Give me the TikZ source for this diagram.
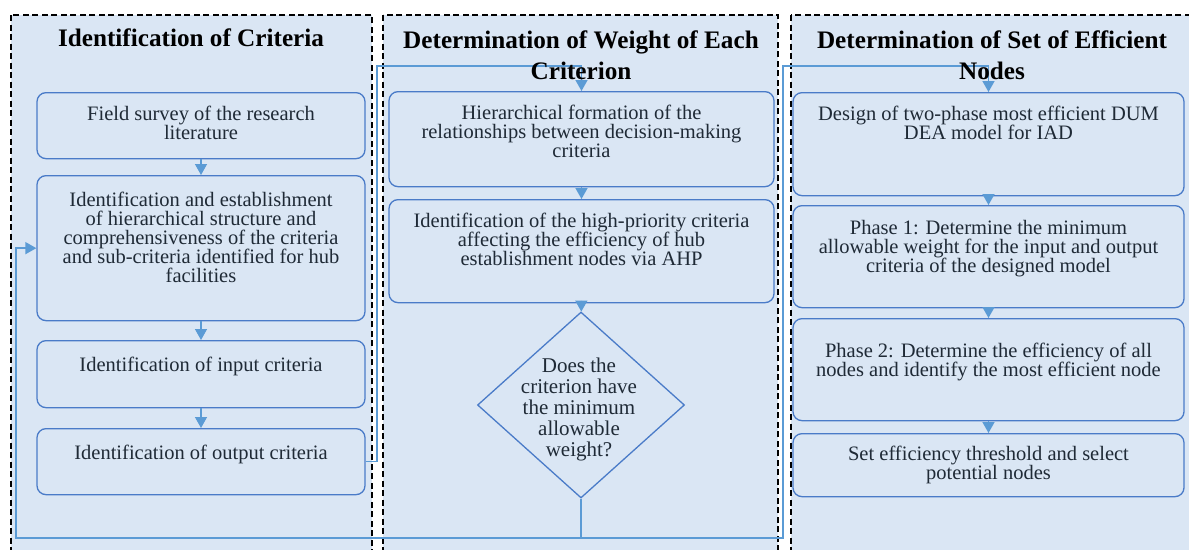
\documentclass[tikz,border=0pt]{standalone}
\usepackage{fontspec}
\setmainfont{Liberation Serif}
\usetikzlibrary{arrows.meta, positioning, shapes.geometric}
\definecolor{panelfill}{HTML}{DAE6F4}
\definecolor{boxline}{HTML}{4A7BC8}
\definecolor{flowline}{HTML}{5B9BD5}
\definecolor{bodytext}{HTML}{1F2A36}

\begin{document}
\begin{tikzpicture}[x=1pt, y=-1pt,
  panel/.style={fill=panelfill, draw=black, line width=1.8pt, dash pattern=on 6pt off 3.5pt},
  stepbox/.style={draw=boxline, fill=panelfill, line width=1.3pt, rounded corners=9pt, anchor=north, inner sep=0pt},
  steptext/.style={text=bodytext, align=center, inner sep=0pt, font=\fontsize{20.5}{19}\selectfont},
  paneltitle/.style={align=center, font=\fontsize{25.2}{31}\selectfont\bfseries},
  decision/.style={diamond, draw=boxline, fill=panelfill, line width=1.3pt, inner sep=0pt},
  flow/.style={draw=flowline, line width=1.4pt},
  arr/.style={flow, -{Triangle[width=12pt, length=11pt]}}
]
        \useasboundingbox (0,0) rectangle (1189,549);
        \clip (0,0) rectangle (1189,549);

        % Panels
        \draw[panel] (11,15) rectangle (372,570);
        \draw[panel] (383,15) rectangle (778,570);
        \draw[panel] (791,15) rectangle (1210,570);

        % Nodes: identification of criteria
        \node[stepbox, minimum width=328pt, minimum height=66pt] (fieldsurvey) at (201,92) {};
        \node[steptext, below=13.5pt of fieldsurvey.north] (fieldsurveytext) {Field survey of the research\\literature};
        \node[stepbox, minimum width=328pt, minimum height=145pt] (identify) at (201,175) {};
        \node[steptext, below=17pt of identify.north] (identifytext) {Identification and establishment\\of hierarchical structure and\\comprehensiveness of the criteria\\and sub-criteria identified for hub\\facilities};
        \node[stepbox, minimum width=328pt, minimum height=67pt] (incrit) at (201,340) {};
        \node[steptext, below=17pt of incrit.north] (incrittext) {Identification of input criteria};
        \node[stepbox, minimum width=328pt, minimum height=66pt] (outcrit) at (201,428) {};
        \node[steptext, below=17pt of outcrit.north] (outcrittext) {Identification of output criteria};

        % Nodes: weight of each criterion
        \node[stepbox, minimum width=385pt, minimum height=95pt] (hierarchy) at (581.5,91) {};
        \node[steptext, below=13.5pt of hierarchy.north] (hierarchytext) {Hierarchical formation of the\\relationships between decision-making\\criteria};
        \node[stepbox, minimum width=385pt, minimum height=103pt] (priority) at (581.5,199) {};
        \node[steptext, below=13.5pt of priority.north] (prioritytext) {Identification of the high-priority criteria\\affecting the efficiency of hub\\establishment nodes via AHP};
        \node[decision, minimum width=207pt, minimum height=186pt] (check) at (581,405) {};
        \node[steptext, font=\fontsize{21}{21}\selectfont] (checktext) at (579,409) {Does the\\criterion have\\the minimum\\allowable\\weight?};

        % Nodes: set of efficient nodes
        \node[stepbox, minimum width=391pt, minimum height=103pt] (designmodel) at (988.5,92) {};
        \node[steptext, below=13.5pt of designmodel.north] (designmodeltext) {Design of two-phase most efficient DUM\\DEA model for IAD};
        \node[stepbox, minimum width=391pt, minimum height=102pt] (phaseone) at (988.5,205) {};
        \node[steptext, below=15.5pt of phaseone.north] (phaseonetext) {Phase 1: Determine the minimum\\allowable weight for the input and output\\criteria of the designed model};
        \node[stepbox, minimum width=391pt, minimum height=102pt] (phasetwo) at (988.5,318) {};
        \node[steptext, below=24.5pt of phasetwo.north] (phasetwotext) {Phase 2: Determine the efficiency of all\\nodes and identify the most efficient node};
        \node[stepbox, minimum width=391pt, minimum height=63pt] (threshold) at (988.5,433) {};
        \node[steptext, below=12.5pt of threshold.north] (thresholdtext) {Set efficiency threshold and select\\potential nodes};

        % Edges
        \draw[arr] (fieldsurvey) -- (identify);
        \draw[arr] (identify) -- (incrit);
        \draw[arr] (incrit) -- (outcrit);
        \draw[arr] (hierarchy) -- (priority);
        \draw[arr] (priority) -- (check);
        \draw[arr] (designmodel) -- (phaseone);
        \draw[arr] (phaseone) -- (phasetwo);
        \draw[arr] (phasetwo) -- (threshold);

        % Links between panels
        \coordinate (riserone) at (377,66);
        \coordinate (loopcorner) at (16,538);
        \coordinate (loopright) at (783,538);
        \coordinate (risertwo) at (783,66);
        \draw[arr] (outcrit.east) -| (riserone) -| (hierarchy.north);
        \draw[arr] (check.south) |- (loopcorner) |- (identify.west);
        \draw[arr] (check.south) |- (loopright) -- (risertwo) -| (designmodel.north);

        % Titles
        \node[paneltitle] (crittitle) at (191,38) {Identification of Criteria};
        \node[paneltitle] (weighttitle) at (581,55) {Determination of Weight of Each\\Criterion};
        \node[paneltitle] (efftitle) at (992,55.5) {Determination of Set of Efficient\\Nodes};
\end{tikzpicture}
\end{document}
